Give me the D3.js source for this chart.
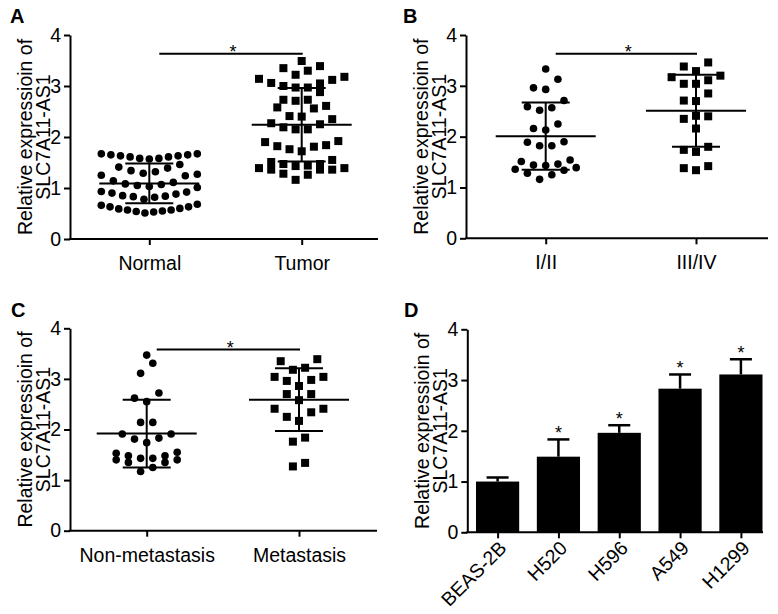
<!DOCTYPE html>
<html>
<head>
<meta charset="utf-8">
<script src="https://cdn.jsdelivr.net/npm/d3@7"></script>
<style>
  html, body { margin: 0; padding: 0; background: #fff; }
  svg { display: block; }
  text { font-family: "Liberation Sans", Arial, sans-serif; fill: #000; }
</style>
</head>
<body>
<svg id="chart" width="778" height="614"></svg>
<script>
// ---------------- data ----------------
const yTicks = [0, 1, 2, 3, 4];
const yLabelLines = ["Relative expressioin of", "SLC7A11-AS1"];

// Panel A
const catsA = ["Normal", "Tumor"];
const normalVals = [1.67, 1.65, 1.63, 1.61, 1.58, 1.57, 1.58, 1.61, 1.63, 1.65, 1.67,
  1.46, 1.39, 1.32, 1.27, 1.29, 1.34, 1.41,
  1.25, 1.24, 1.11, 1.05, 1.08, 1.03, 1.07, 1.14, 1.01,
  0.93, 0.90, 0.85, 0.82, 0.78, 0.84, 0.83, 0.88, 0.92,
  0.68, 0.63, 0.59, 0.57, 0.55, 0.53, 0.51, 0.54, 0.57, 0.60, 0.63, 0.66];
const tumorVals = [3.49, 3.39, 3.35, 3.30, 3.22,
  3.18, 3.14, 3.12, 3.06, 3.05, 3.00, 2.97, 2.97, 2.88,
  2.73, 2.73, 2.71, 2.61, 2.58, 2.56,
  2.41, 2.40, 2.35, 2.27, 2.25, 2.19, 2.15, 2.15,
  1.92, 1.90, 1.84, 1.82, 1.81, 1.76, 1.72,
  1.55, 1.51, 1.47, 1.47, 1.44, 1.43, 1.39, 1.39, 1.36, 1.36, 1.36, 1.28, 1.26, 1.16];
const meanA = [1.09, 2.24];
const sdA = [0.39, 0.72];

// Panel B
const catsB = ["I/II", "III/IV"];
const stageIVals = [3.33, 3.13, 2.96, 2.93, 2.71, 2.59, 2.52, 2.57, 2.16, 2.13, 2.25,
  1.89, 1.82, 1.82, 1.90, 1.51, 1.46, 1.43, 1.44, 1.54,
  1.36, 1.28, 1.16, 1.25, 1.34, 1.39];
const stageIIIVals = [3.46, 3.29, 3.38, 3.17, 3.20, 3.04, 3.04, 3.11, 2.85, 2.70, 2.71,
  2.41, 2.35, 2.40, 2.16, 1.74, 1.70, 1.80, 1.42, 1.34, 1.38];
const meanB = [2.01, 2.51];
const sdB = [0.66, 0.71];

// Panel C
const catsC = ["Non-metastasis", "Metastasis"];
const nonMetVals = [3.47, 3.31, 3.11, 2.72, 2.62, 2.55, 2.14, 2.14, 1.91, 1.91, 1.83, 1.81, 1.74,
  1.55, 1.48, 1.53, 1.40, 1.48, 1.40, 1.35, 1.43, 1.43, 1.35, 1.25, 1.17];
const metVals = [3.39, 3.35, 3.18, 3.22, 3.04, 3.04, 2.98, 2.96, 2.86, 2.70, 2.70, 2.58,
  2.41, 2.34, 2.41, 2.25, 2.17, 1.84, 1.76, 1.27, 1.34];
const meanC = [1.92, 2.59];
const sdC = [0.67, 0.62];

// significance bars (value where the bracket line sits)
const sigLevels = [3.63, 3.63, 3.58];

// Panel D
const cellLines = ["BEAS-2B", "H520", "H596", "A549", "H1299"];
const cellMeans = [1.00, 1.49, 1.96, 2.83, 3.11];
const cellErrs = [0.08, 0.34, 0.15, 0.28, 0.30];
const cellSig = ["", "*", "*", "*", "*"];

// ---------------- drawing ----------------
const svg = d3.select("#chart");
const FONT = 19.5;
const STAR = 18;

function yAxisBlock(g, p, y) {
  const ax = g.append("g").attr("transform", `translate(${p.axisX},0)`)
    .call(d3.axisLeft(y).tickValues(yTicks).tickSize(6).tickSizeOuter(0).tickFormat(d3.format("d")));
  ax.select(".domain").attr("stroke", "#000").attr("stroke-width", 2);
  ax.selectAll(".tick line").attr("stroke", "#000").attr("stroke-width", 2);
  ax.selectAll(".tick text").attr("font-size", FONT).attr("x", -9).attr("fill", "#000")
    .style("font-family", "'Liberation Sans', Arial, sans-serif");
  const ym = (y(0) + y(4)) / 2;
  g.append("text").attr("transform", `translate(${p.axisX - 38},${ym}) rotate(-90)`)
    .attr("text-anchor", "middle").attr("font-size", FONT).text(yLabelLines[0]);
  g.append("text").attr("transform", `translate(${p.axisX - 20},${ym}) rotate(-90)`)
    .attr("text-anchor", "middle").attr("font-size", FONT).text(yLabelLines[1]);
  g.append("text").attr("x", p.labelX).attr("y", p.labelY).attr("font-size", 20)
    .attr("font-weight", "bold").text(p.letter);
}

function xAxisBlock(g, p, x, y, rotate) {
  const ax = g.append("g").attr("transform", `translate(0,${y(0)})`)
    .call(d3.axisBottom(x).tickSize(6).tickSizeOuter(0));
  ax.select(".domain").attr("d", `M${p.axisX - 1},0H${p.xEnd}`).attr("stroke", "#000").attr("stroke-width", 2);
  ax.selectAll(".tick line").attr("stroke", "#000").attr("stroke-width", 2);
  const t = ax.selectAll(".tick text").attr("font-size", FONT).attr("fill", "#000")
    .style("font-family", "'Liberation Sans', Arial, sans-serif");
  if (rotate) {
    t.attr("y", 0).attr("dy", 0).attr("text-anchor", "end")
      .attr("transform", "translate(9.5,17) rotate(-45)");
  } else {
    t.attr("y", 31).attr("dy", 0);
  }
}

function rowLayout(values, rowH, spacing, maxSpan) {
  const sorted = values.slice().sort((a, b) => a - b);
  const rows = []; let cur = null;
  for (const v of sorted) {
    if (!cur || v - cur.start >= rowH) { cur = { start: v, vals: [] }; rows.push(cur); }
    cur.vals.push(v);
  }
  const out = [];
  rows.forEach(r => {
    const n = r.vals.length;
    const sp = n > 1 ? Math.min(spacing, maxSpan / (n - 1)) : 0;
    const slots = d3.range(n).map(k => k - (n - 1) / 2)
      .sort((a, b) => Math.abs(a) - Math.abs(b) || a - b);
    r.vals.forEach((v, i) => out.push({ v, dx: slots[i] * sp }));
  });
  return out;
}

function scatterPanel(p, cats, groups, means, sds, sigLevel) {
  const g = svg.append("g");
  const y = d3.scaleLinear().domain([0, 4]).range([p.y0, p.y4]);
  const x = d3.scalePoint().domain(cats).range(p.catRange);
  yAxisBlock(g, p, y);
  xAxisBlock(g, p, x, y, false);

  groups.forEach((vals, gi) => {
    const cx = x(cats[gi]);
    const pts = rowLayout(vals, 0.25, 12.2, 96);
    if (gi === 0) {
      g.append("g").selectAll("circle").data(pts).join("circle")
        .attr("cx", d => cx + d.dx).attr("cy", d => y(d.v)).attr("r", 3.8).attr("fill", "#000");
    } else {
      const s = 8;
      g.append("g").selectAll("rect").data(pts).join("rect")
        .attr("x", d => cx + d.dx - s / 2).attr("y", d => y(d.v) - s / 2)
        .attr("width", s).attr("height", s).attr("fill", "#000");
    }
    const m = means[gi], sd = sds[gi];
    const lg = g.append("g").attr("stroke", "#000").attr("stroke-width", 2);
    lg.append("line").attr("x1", cx - 50).attr("x2", cx + 50).attr("y1", y(m)).attr("y2", y(m));
    lg.append("line").attr("x1", cx).attr("x2", cx).attr("y1", y(m - sd)).attr("y2", y(m + sd));
    lg.append("line").attr("x1", cx - 24).attr("x2", cx + 24).attr("y1", y(m + sd)).attr("y2", y(m + sd));
    lg.append("line").attr("x1", cx - 24).attr("x2", cx + 24).attr("y1", y(m - sd)).attr("y2", y(m - sd));
  });

  const sx1 = x(cats[0]) + 10, sx2 = x(cats[1]) + 1, sy = y(sigLevel);
  g.append("line").attr("x1", sx1).attr("x2", sx2).attr("y1", sy).attr("y2", sy)
    .attr("stroke", "#000").attr("stroke-width", 2);
  g.append("text").attr("x", (sx1 + sx2) / 2 + 2).attr("y", sy + 4.3).attr("text-anchor", "middle")
    .attr("font-size", STAR).text("*");
}

scatterPanel({ letter: "A", axisX: 70, xEnd: 378, y0: 239, y4: 35, labelX: 10, labelY: 22.7, catRange: [149.3, 301.7] },
  catsA, [normalVals, tumorVals], meanA, sdA, sigLevels[0]);
scatterPanel({ letter: "B", axisX: 466, xEnd: 768, y0: 238.3, y4: 35, labelX: 403, labelY: 22.7, catRange: [545.7, 696] },
  catsB, [stageIVals, stageIIIVals], meanB, sdB, sigLevels[1]);
scatterPanel({ letter: "C", axisX: 70, xEnd: 377, y0: 530.7, y4: 328.3, labelX: 11, labelY: 316.7, catRange: [146.7, 299] },
  catsC, [nonMetVals, metVals], meanC, sdC, sigLevels[2]);

// Panel D bar chart
(function () {
  const p = { letter: "D", axisX: 467.3, xEnd: 763, y0: 532.3, y4: 329.3, labelX: 404, labelY: 316.7 };
  const g = svg.append("g");
  const y = d3.scaleLinear().domain([0, 4]).range([p.y0, p.y4]);
  const x = d3.scaleBand().domain(cellLines).range([476, 762.5]).paddingInner(0.29).paddingOuter(0);
  const data = cellLines.map((c, i) => ({ c, v: cellMeans[i], e: cellErrs[i], s: cellSig[i] }));
  const eg = g.append("g").attr("stroke", "#000").attr("stroke-width", 2.5);
  data.forEach(d => {
    const cx = x(d.c) + x.bandwidth() / 2;
    eg.append("line").attr("x1", cx).attr("x2", cx).attr("y1", y(d.v)).attr("y2", y(d.v + d.e));
    eg.append("line").attr("x1", cx - 11).attr("x2", cx + 11).attr("y1", y(d.v + d.e)).attr("y2", y(d.v + d.e));
  });
  g.append("g").selectAll("rect").data(data).join("rect")
    .attr("x", d => x(d.c)).attr("width", x.bandwidth())
    .attr("y", d => y(d.v)).attr("height", d => y(0) - y(d.v)).attr("fill", "#000");
  g.append("g").selectAll("text").data(data.filter(d => d.s)).join("text")
    .attr("x", d => x(d.c) + x.bandwidth() / 2).attr("y", d => y(d.v + d.e))
    .attr("text-anchor", "middle").attr("font-size", STAR).text(d => d.s);
  yAxisBlock(g, p, y);
  const xp = d3.scalePoint().domain(cellLines).range([x(cellLines[0]) + x.bandwidth() / 2,
    x(cellLines[4]) + x.bandwidth() / 2]);
  xAxisBlock(g, p, xp, y, true);
})();
</script>
</body>
</html>
